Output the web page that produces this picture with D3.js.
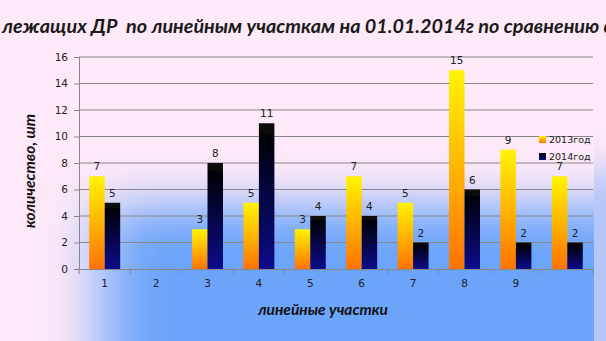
<!doctype html>
<html>
<head>
<meta charset="utf-8">
<script src="https://d3js.org/d3.v7.min.js"></script>
<style>
  body { margin: 0; }
  svg text { font-family: "DejaVu Sans", Verdana, sans-serif; fill: #222; }
  .ttl { font-family: Lato, "Open Sans", sans-serif; font-weight: bold; font-style: italic; white-space: pre; }
</style>
</head>
<body>
<svg width="606" height="341"></svg>
<script>
var categories = ["1", "2", "3", "4", "5", "6", "7", "8", "9", "10"];
var tickLabels = ["1", "2", "3", "4", "5", "6", "7", "8", "9", ""];
var series = ["2013год", "2014год"];
var values2013 = [7, 0, 3, 5, 3, 7, 5, 15, 9, 7];
var values2014 = [5, 0, 8, 11, 4, 4, 2, 6, 2, 2];
var yTicks = [0, 2, 4, 6, 8, 10, 12, 14, 16];

var svg = d3.select("svg"),
    W = 606, H = 341,
    pL = 79, pR = 593, pT = 57, pB = 269;

var defs = svg.append("defs");

// bar gradients
var g13 = defs.append("linearGradient").attr("id", "g13").attr("x1", 0).attr("y1", 0).attr("x2", 0).attr("y2", 1);
g13.append("stop").attr("offset", 0).attr("stop-color", "#fff400");
g13.append("stop").attr("offset", 0.5).attr("stop-color", "#ffb400");
g13.append("stop").attr("offset", 1).attr("stop-color", "#ff7200");
var g14 = defs.append("linearGradient").attr("id", "g14").attr("x1", 0).attr("y1", 0).attr("x2", 0).attr("y2", 1);
g14.append("stop").attr("offset", 0).attr("stop-color", "#0d0d0d");
g14.append("stop").attr("offset", 0.07).attr("stop-color", "#0b0b0b");
g14.append("stop").attr("offset", 0.09).attr("stop-color", "#000008");
g14.append("stop").attr("offset", 1).attr("stop-color", "#0c0c8c");

defs.append("filter").attr("id", "blur").attr("x", "-50%").attr("y", "-50%").attr("width", "200%").attr("height", "200%")
    .append("feGaussianBlur").attr("stdDeviation", "30 24");
defs.append("filter").attr("id", "blur2").attr("x", "-50%").attr("y", "-50%").attr("width", "200%").attr("height", "200%")
    .append("feGaussianBlur").attr("stdDeviation", 18);
defs.append("clipPath").attr("id", "cl")
    .append("rect").attr("x", 0).attr("y", 0).attr("width", 594).attr("height", H);
defs.append("clipPath").attr("id", "cr")
    .append("rect").attr("x", 594).attr("y", 0).attr("width", 20).attr("height", H);

// background
svg.append("rect").attr("width", W).attr("height", H).attr("fill", "#fde9f7");
svg.append("g").attr("clip-path", "url(#cl)")
  .append("rect").attr("x", 102).attr("y", 206).attr("width", 560).attr("height", 220)
    .attr("fill", "#6ca4fa").attr("filter", "url(#blur)");
svg.append("g").attr("clip-path", "url(#cr)")
  .append("rect").attr("x", 560).attr("y", 170).attr("width", 100).attr("height", 220)
    .attr("fill", "#b4c6f8").attr("filter", "url(#blur2)");

// title
svg.append("text").attr("class", "ttl").attr("x", 2).attr("y", 33)
    .attr("font-size", "19.8px").style("fill", "#1a1a1a")
    .text("лежащих ДР  по линейным участкам на 01.01.2014г по сравнению с 2013г");

var x0 = d3.scaleBand().domain(categories).range([pL, pR]).padding(0);
var x1 = d3.scaleBand().domain(series).range([0, x0.bandwidth()]).paddingInner(0).paddingOuter(0.66);
var y = d3.scaleLinear().domain([0, 16]).range([pB, pT]);

// gridlines
svg.append("g").selectAll("line").data(yTicks.filter(function (d) { return d > 0; })).enter()
  .append("line")
    .attr("x1", pL).attr("x2", pR)
    .attr("y1", function (d) { return y(d); }).attr("y2", function (d) { return y(d); })
    .attr("stroke", "#878787").attr("stroke-width", 1);

// bars
var data = categories.map(function (c, i) {
  return { cat: c, vals: [{ s: series[0], v: values2013[i] }, { s: series[1], v: values2014[i] }] };
});
var fills = { "2013год": "url(#g13)", "2014год": "url(#g14)" };

var grp = svg.append("g").selectAll("g").data(data).enter().append("g")
    .attr("transform", function (d) { return "translate(" + x0(d.cat) + ",0)"; });
grp.selectAll("rect").data(function (d) { return d.vals.filter(function (e) { return e.v > 0; }); }).enter()
  .append("rect")
    .attr("x", function (d) { return x1(d.s); })
    .attr("y", function (d) { return y(d.v); })
    .attr("width", x1.bandwidth())
    .attr("height", function (d) { return y(0) - y(d.v); })
    .attr("fill", function (d) { return fills[d.s]; });
grp.selectAll("text").data(function (d) { return d.vals.filter(function (e) { return e.v > 0; }); }).enter()
  .append("text")
    .attr("x", function (d) { return x1(d.s) + x1.bandwidth() / 2; })
    .attr("y", function (d) { return y(d.v) - 6; })
    .attr("text-anchor", "middle")
    .attr("font-size", "10.5px")
    .text(function (d) { return d.v; });

// y axis
var yAxis = svg.append("g").attr("transform", "translate(" + pL + ",0)")
    .call(d3.axisLeft(y).tickValues(yTicks).tickSize(5).tickPadding(6));
yAxis.selectAll("path, line").attr("stroke", "#878787");
yAxis.selectAll("text").attr("font-size", "10.5px").attr("font-family", "DejaVu Sans").style("fill", "#222");

// x axis
var xAxis = svg.append("g").attr("transform", "translate(0," + pB + ")")
    .call(d3.axisBottom(x0).tickSize(0).tickPadding(11).tickFormat(function (d, i) { return tickLabels[i]; }));
xAxis.select("path").attr("stroke", "#878787");
xAxis.selectAll("text").attr("font-size", "10.5px").attr("font-family", "DejaVu Sans").style("fill", "#222");
svg.append("g").selectAll("line").data(categories.concat(["end"])).enter()
  .append("line")
    .attr("x1", function (d, i) { return x0.range()[0] + i * x0.step(); })
    .attr("x2", function (d, i) { return x0.range()[0] + i * x0.step(); })
    .attr("y1", pB).attr("y2", pB + 5)
    .attr("stroke", "#878787");

// axis titles
svg.append("text").attr("class", "ttl").attr("x", 323).attr("y", 315)
    .attr("text-anchor", "middle").attr("font-size", "15.5px").style("fill", "#111")
    .text("линейные участки");
svg.append("text").attr("class", "ttl")
    .attr("transform", "translate(35,171) rotate(-90)")
    .attr("text-anchor", "middle").attr("font-size", "15.5px").style("fill", "#111")
    .text("количество, шт");

// legend
var leg = svg.append("g").attr("transform", "translate(539,136)");
leg.selectAll("rect").data(series).enter().append("rect")
    .attr("x", 0).attr("y", function (d, i) { return i * 17; })
    .attr("width", 7).attr("height", 7)
    .attr("fill", function (d) { return fills[d]; });
leg.selectAll("text").data(series).enter().append("text")
    .attr("x", 10).attr("y", function (d, i) { return i * 17 + 7; })
    .attr("font-size", "9.5px")
    .text(function (d) { return d; });
</script>
</body>
</html>
